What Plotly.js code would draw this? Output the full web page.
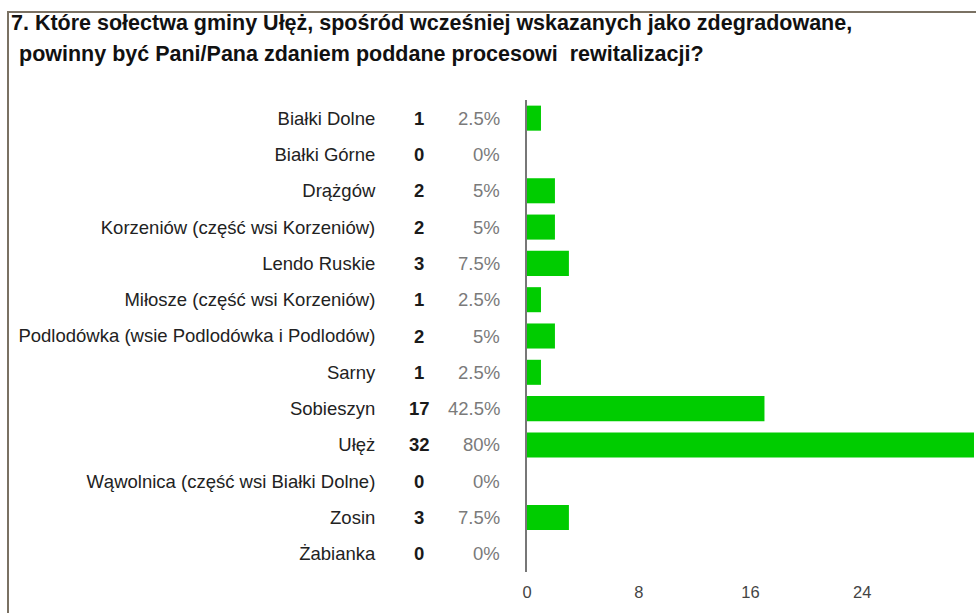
<!DOCTYPE html>
<html>
<head>
<meta charset="utf-8">
<script src="https://cdn.plot.ly/plotly-3.0.1.min.js"></script>
<style>
  html, body { margin: 0; padding: 0; background: #ffffff; }
  #chart { width: 976px; height: 613px; }
</style>
</head>
<body>
<div id="chart"></div>
<script>
// Survey answers: villages (sołectwa) chosen for revitalisation
const categories = [
  'Białki Dolne',
  'Białki Górne',
  'Drążgów',
  'Korzeniów (część wsi Korzeniów)',
  'Lendo Ruskie',
  'Miłosze (część wsi Korzeniów)',
  'Podlodówka (wsie Podlodówka i Podlodów)',
  'Sarny',
  'Sobieszyn',
  'Ułęż',
  'Wąwolnica (część wsi Białki Dolne)',
  'Zosin',
  'Żabianka'
];
const counts = [1, 0, 2, 2, 3, 1, 2, 1, 17, 32, 0, 3, 0];
const percents = ['2.5%', '0%', '5%', '5%', '7.5%', '2.5%', '5%', '2.5%', '42.5%', '80%', '0%', '7.5%', '0%'];
const xTicks = [0, 8, 16, 24];
const titleLines = [
  '7. Które sołectwa gminy Ułęż, spośród wcześniej wskazanych jako zdegradowane,',
  'powinny być Pani/Pana zdaniem poddane procesowi\u00a0 rewitalizacji?'
];

const W = 976, H = 613;
const margin = { l: 527, r: 2, t: 100, b: 41 };
const plotW = W - margin.l - margin.r;
const plotH = H - margin.t - margin.b;
// pixel position -> paper coordinate
const px = x => (x - margin.l) / plotW;
const py = y => (H - margin.b - y) / plotH;

const FONT = 'Liberation Sans, Arial, sans-serif';

const annotations = [];
// count column (bold) and percentage column (grey)
categories.forEach((c, i) => {
  annotations.push({
    xref: 'paper', yref: 'y', x: px(419), y: c,
    text: '<b>' + counts[i] + '</b>', showarrow: false,
    xanchor: 'center', yanchor: 'middle',
    font: { family: FONT, size: 18.5, color: '#1a1a1a' }
  });
  annotations.push({
    xref: 'paper', yref: 'y', x: px(502), y: c,
    text: percents[i], showarrow: false,
    xanchor: 'right', yanchor: 'middle',
    font: { family: FONT, size: 18.5, color: '#7a7a7a' }
  });
});
// question text
annotations.push({
  xref: 'paper', yref: 'paper', x: px(9), y: py(23),
  text: '<b>' + titleLines[0] + '</b>', showarrow: false,
  xanchor: 'left', yanchor: 'middle',
  font: { family: FONT, size: 21.5, color: '#111111' }
});
annotations.push({
  xref: 'paper', yref: 'paper', x: px(17), y: py(54),
  text: '<b>' + titleLines[1] + '</b>', showarrow: false,
  xanchor: 'left', yanchor: 'middle',
  font: { family: FONT, size: 21.5, color: '#111111' }
});

const trace = {
  type: 'bar',
  orientation: 'h',
  y: categories,
  x: counts,
  marker: { color: '#00cc00', line: { width: 0 } },
  hoverinfo: 'skip'
};

const layout = {
  width: W, height: H,
  margin: margin,
  paper_bgcolor: '#ffffff',
  plot_bgcolor: '#ffffff',
  showlegend: false,
  bargap: 0.31,
  font: { family: FONT, size: 18, color: '#222222' },
  xaxis: {
    range: [0, 32],
    tickvals: xTicks,
    ticktext: xTicks.map(String),
    showgrid: false,
    zeroline: false,
    showline: false,
    ticks: '',
    ticklabelstandoff: 8,
    tickfont: { family: FONT, size: 16.5, color: '#444444' },
    fixedrange: true
  },
  yaxis: {
    type: 'category',
    autorange: 'reversed',
    showgrid: false,
    zeroline: false,
    showline: true,
    linecolor: '#777777',
    linewidth: 2,
    ticks: '',
    ticklabelstandoff: 146,
    tickfont: { family: FONT, size: 18.5, color: '#222222' },
    fixedrange: true
  },
  shapes: [{
    type: 'rect', xref: 'paper', yref: 'paper',
    x0: px(8), x1: px(990), y0: py(630), y1: py(12),
    line: { color: '#7a7163', width: 2 },
    fillcolor: 'rgba(0,0,0,0)'
  }],
  annotations: annotations
};

Plotly.newPlot('chart', [trace], layout, { displayModeBar: false, staticPlot: true });
</script>
</body>
</html>
